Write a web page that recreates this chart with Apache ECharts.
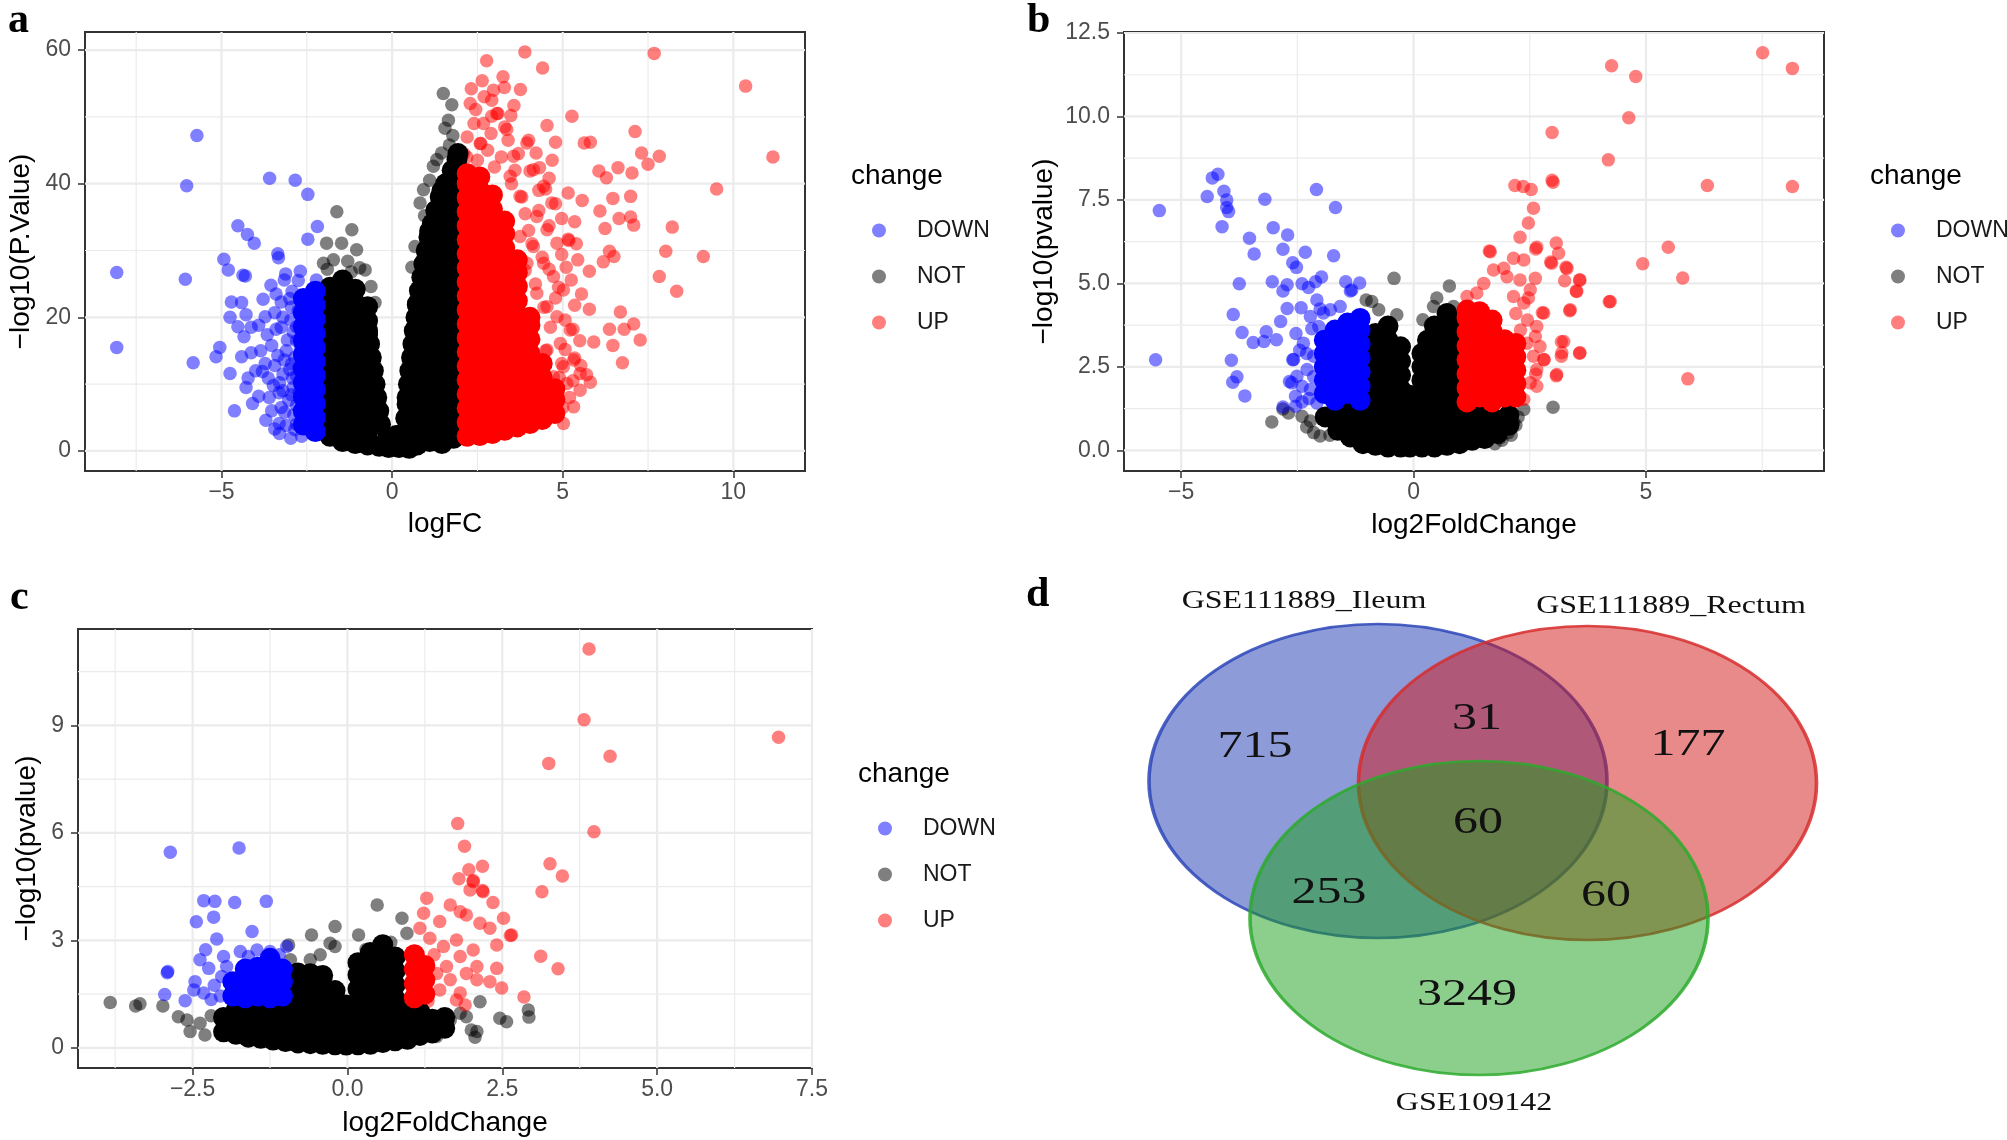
<!DOCTYPE html>
<html>
<head>
<meta charset="utf-8">
<title>Volcano plots and Venn diagram</title>
<script src="https://cdn.jsdelivr.net/npm/echarts@6/dist/echarts.min.js"></script>
<style>
  html, body { margin: 0; padding: 0; background: #fff; }
  #chart { width: 2007px; height: 1140px; }
</style>
</head>
<body>
<div id="chart"></div>
<script>
// ---------------- data ----------------
var changeNames = ['DOWN', 'NOT', 'UP'];

// panel a: logFC vs -log10(P.Value)
var aTicksX = [-5, 0, 5, 10];
var aMinorX = [-7.5, -2.5, 2.5, 7.5];
var aTicksY = [0, 20, 40, 60];
var aMinorY = [10, 30, 50];
var aDown = [[-5.72,47.2],[-6.02,39.7],[-8.07,26.7],[-8.07,15.5],[-6.06,25.7],[-5.83,13.2],[-3.59,40.8],[-2.84,40.5],[-2.47,38.4],[-4.52,33.7],[-4.24,32.4],[-4.04,31.1],[-2.19,33.6],[-2.47,31.7],[-3.35,29.5],[-3.33,28.9],[-4.93,28.7],[-4.8,27.1],[-4.37,26.3],[-4.3,26.2],[-3.12,26.5],[-2.75,25.5],[-4.71,22.3],[-4.41,22.2],[-3.78,22.7],[-4.75,20.0],[-4.52,18.6],[-3.91,18.8],[-5.05,15.5],[-5.16,14.1],[-4.34,17.1],[-4.13,14.7],[-4.75,11.6],[-4.28,9.5],[-3.91,8.2],[-4.62,6.0],[-3.48,9.8],[-3.25,6.5],[-2.97,1.9],[-3.31,4.1],[-3.72,20.1],[-3.44,20.7],[-3.25,22.3],[-3.66,17.4],[-3.53,15.8],[-3.25,18.5],[-2.97,19.6],[-3.07,16.6],[-3.85,15.0],[-3.72,13.1],[-4.0,12.0],[-3.44,12.8],[-3.16,13.6],[-2.92,10.9],[-2.69,15.2],[-2.73,12.5],[-3.63,10.9],[-3.31,8.7],[-3.03,7.6],[-2.73,8.7],[-3.53,6.0],[-2.88,5.4],[-3.1,3.8],[-2.65,2.2],[-3.44,3.3],[-4.09,7.1],[-4.22,10.9],[-4.41,14.1],[-4.13,18.5],[-4.28,20.4],[-2.93,23.9],[-3.16,25.6],[-2.69,26.9],[-2.22,25.6],[-2.95,21.5],[-2.9,17.8],[-2.85,14],[-2.8,4],[-2.9,9.5],[-3.0,12.2],[-3.4,23.5],[-3.0,22.8],[-2.75,21],[-3.2,20],[-2.8,18.6],[-3.4,18.2],[-3.1,15],[-2.8,16.5],[-3.35,14.3],[-2.95,13],[-3.2,11.5],[-2.8,11.2],[-3.3,10.2],[-2.95,8.4],[-3.2,9],[-2.8,6.8],[-3.15,5.8],[-2.85,3.2],[-3.3,2.6],[-2.7,5.6],[-3.6,8],[-3.7,4.6],[-3.8,11.9],[-3.55,24.8]];
var aNot = [[1.5,53.5],[1.75,51.8],[1.65,49.5],[1.55,48.3],[1.78,47.2],[1.31,43.6],[1.21,42.6],[1.45,44.6],[0.92,39.1],[0.82,37.1],[0.95,35.2],[0.67,30.6],[0.58,27.5],[-1.62,35.8],[-1.18,33.1],[-1.04,30.1],[-1.92,31.1],[-1.48,31.1],[-2.01,28.1],[-0.79,27.1],[-1.72,28.6],[-1.3,28.4],[-0.95,27.4],[-1.9,27.2],[-0.62,24.6],[-0.5,22.2],[-1.2,26.8],[1.1,40.5],[1.68,45.8]];
var aUp = [[3.89,59.7],[7.68,59.5],[2.77,58.4],[4.41,57.3],[10.36,54.6],[3.25,56.0],[2.64,55.4],[3.29,54.4],[2.32,54.2],[3.76,54.1],[2.92,52.5],[3.57,51.7],[2.45,51.1],[2.92,50.1],[3.48,50.2],[5.27,50.1],[7.12,47.8],[4.54,48.7],[11.16,44.0],[5.63,46.1],[5.81,46.2],[4.79,46.2],[7.31,44.6],[7.83,44.1],[7.5,42.9],[9.51,39.2],[6.06,41.9],[6.62,42.4],[7.03,41.6],[6.28,40.9],[5.16,38.6],[4.6,40.8],[4.04,41.9],[5.57,37.5],[6.47,37.8],[6.99,38.1],[6.09,35.9],[6.99,35.0],[7.08,33.8],[6.65,34.8],[8.21,33.5],[5.16,31.7],[5.18,31.5],[6.24,33.3],[8.02,29.9],[9.12,29.1],[6.37,29.9],[6.5,29.1],[6.19,28.3],[5.44,28.6],[5.78,26.9],[7.83,26.1],[8.34,23.9],[4.88,24.5],[5.35,21.8],[5.78,21.2],[6.69,20.8],[6.37,18.2],[7.08,19.0],[7.27,16.6],[6.8,18.2],[5.91,16.3],[6.47,15.8],[6.75,13.2],[5.07,15.2],[5.35,13.9],[5.53,12.8],[5.81,10.3],[5.7,11.4],[4.97,13.1],[4.79,9.8],[4.22,44.6],[4.32,42.4],[4.69,43.5],[4.5,39.2],[4.79,37],[4.97,34.8],[4.6,33.7],[5.35,34.3],[4.97,29.4],[4.6,27.2],[5.25,25.6],[4.79,22.9],[5.07,19.6],[4.64,18.5],[4.3,36],[4.1,31],[4.4,29],[4.2,25],[4.45,21.5],[3.9,27],[4.0,33],[3.8,38],[3.6,42],[3.2,44],[2.6,46],[2.2,47],[2.4,49],[2.9,47.5],[3.4,46.5],[2.1,44.5],[2.5,43.5],[3.0,42.5],[3.5,40],[3.9,35.5],[4.1,17],[4.5,15],[4.9,11],[5.2,8],[5.0,6.5],[4.6,8],[5.3,10.5],[5.5,16.5],[5.3,18.2],[5.55,23.5],[5.1,27.5],[5.4,31],[2.8,45],[3.3,48.5],[2.7,53],[3.1,50.5],[4.0,46.5],[4.3,39],[3.7,44.5],[4.14,42.1],[4.44,39.6],[4.68,37.1],[4.24,35.1],[4.54,33.1],[4.83,31.1],[4.14,30.6],[4.44,28.1],[4.73,26.1],[5.02,24.1],[4.24,23.6],[4.54,21.6],[4.83,20.1],[4.14,19.1],[5.22,18.1],[4.93,16.1],[4.54,15.1],[5.32,13.6],[5.02,12.6],[4.73,11.1],[5.12,10.1],[5.51,9.1],[4.34,9.1],[4.83,7.6],[5.32,6.6],[4.14,6.6],[4.54,5.1],[5.02,4.1],[3.95,4.1],[3.75,32.1],[3.95,28.1],[3.75,25.1],[3.56,44.1],[3.95,46.1],[3.36,48.1],[3.07,50.5],[2.68,49],[2.29,52],[2.97,54],[2.58,46],[2.19,44],[3.75,38.1],[3.46,41.1],[5.51,11.6]];
// saturated cores, one column per entry: [x, y, y, ...]
var aNotCore = [[-1.82,2.2,4.3,6.4,8.5,10.6,12.7,14.8,16.9,19,21.1,23.2,24.5],[-1.45,1.4,3.3,5.4,7.5,9.6,11.7,13.8,15.9,18,20.1,22.2,24.3,25.6],[-1.08,1.1,3.2,5.3,7.4,9.5,11.6,13.7,15.8,17.9,20,22.1,24.2],[-0.72,0.9,2.7,4.8,6.9,9,11.1,13.2,15.3,17.4,19.5,21.6],[-0.34,4],[-0.39,6],[-0.45,8],[-0.5,10],[-0.55,12],[-0.61,14],[-0.66,16],[-0.72,18],[-0.38,0.7],[-0.1,0.5],[0.2,0.5],[0.5,0.4],[-0.12,2.1],[0.12,2.3],[0.38,0.7,2.8],[0.4,4.9],[0.44,7.0],[0.44,8],[0.48,10],[0.52,12],[0.57,14],[0.61,16],[0.65,18],[0.7,20],[0.74,22],[0.8,24],[0.87,26],[0.93,28],[1.0,30],[1.08,32],[1.18,34],[1.28,36],[1.41,38],[1.57,40],[1.76,42],[1.9,43.6],[1.93,44.5],[0.74,0.9,3,5.1,7.2,9.3,11.4,13.5,15.6,17.7,19.8,21.9],[1.1,1.4,3.5,5.6,7.7,9.8,11.9,14,16.1,18.2,20.3,22.4,24.5,26.6,28.7,30.8,32.9],[1.46,1.1,3.2,5.3,7.4,9.5,11.6,13.7,15.8,17.9,20,22.1,24.2,26.3,28.4,30.5,32.6,34.7,36.8,38.9],[1.8,1.9,4,6.1,8.2,10.3,12.4,14.5,16.6,18.7,20.8,22.9,25,27.1,29.2,31.3,33.4,35.5,37.6,39.7,41.8]];
var aDownCore = [[-2.25,2.9,5,7.1,9.2,11.3,13.4,15.5,17.6,19.7,21.8,23.9],[-2.6,3.9,6,8.1,10.2,12.3,14.4,16.5,18.6,20.7,22.8]];
var aUpCore = [[2.2,2.2,4.3,6.4,8.5,10.6,12.7,14.8,16.9,19,21.1,23.2,25.3,27.4,29.5,31.6,33.7,35.8,37.9,40,41.5],[2.57,2.3,3.3,5.4,7.5,9.6,11.7,13.8,15.9,18,20.1,22.2,24.3,26.4,28.5,30.6,32.7,34.8,36.9,39,41],[2.94,2.6,4.7,6.8,8.9,11,13.1,15.2,17.3,19.4,21.5,23.6,25.7,27.8,29.9,32,34.1,36.2,38.3],[3.3,3.1,5.2,7.3,9.4,11.5,13.6,15.7,17.8,19.9,22,24.1,26.2,28.3,30.4,32.5,34.4],[3.67,3.6,5.7,7.8,9.9,12,14.1,16.2,18.3,20.4,22.5,24.6,26.7,28.6],[4.04,4.1,6.2,8.3,10.4,12.5,14.6,16.7,18.8,20],[4.4,4.7,6.8,8.9,11,13.1],[4.77,5.6,7.7,9.3]];

// panel b: log2FoldChange vs -log10(pvalue)
var bTicksX = [-5, 0, 5];
var bMinorX = [-2.5, 2.5, 7.5];
var bTicksY = [0, 2.5, 5, 7.5, 10, 12.5];
var bMinorY = [1.25, 3.75, 6.25, 8.75, 11.25];
var bDown = [[-5.47,7.18],[-5.55,2.71],[-4.33,8.16],[-4.21,8.27],[-4.44,7.6],[-4.08,7.76],[-4.02,7.5],[-4.02,7.27],[-3.98,7.15],[-4.12,6.7],[-3.2,7.52],[-2.09,7.81],[-1.68,7.27],[-3.53,6.35],[-3.43,5.88],[-3.02,6.67],[-2.71,6.45],[-2.81,6.02],[-2.33,5.93],[-2.6,5.62],[-2.52,5.48],[-1.72,5.83],[-3.75,4.99],[-3.04,5.05],[-2.4,4.99],[-1.98,5.19],[-2.26,4.88],[-2.81,4.77],[-2.72,4.96],[-2.11,5.05],[-1.46,5.05],[-1.16,5.01],[-1.36,4.77],[-1.33,4.8],[-3.88,4.07],[-3.69,3.53],[-3.45,3.23],[-3.17,3.55],[-2.86,3.86],[-2.95,3.31],[-2.72,4.25],[-2.42,4.27],[-2.01,4.23],[-2.08,4.5],[-2.22,4.01],[-2.53,3.5],[-2.19,3.64],[-2.37,3.21],[-3.92,2.7],[-3.8,2.2],[-3.89,2.04],[-3.63,1.63],[-2.6,2.71],[-2.58,2.72],[-2.51,2.22],[-2.4,1.92],[-2.54,1.62],[-2.29,2.42],[-2.15,2.82],[-2.22,1.82],[-2.08,1.42],[-2.62,2.02],[-2.67,2.06],[-2.81,1.3],[-2.54,1.32],[-3.22,3.26],[-2.04,3.71],[-1.94,4.11],[-1.79,4.21],[-1.58,4.31],[-2.3,2.9],[-2.45,3.0],[-2.25,1.55],[-2.4,1.45],[-2.15,2.2]];
var bNot = [[-0.42,5.15],[0.77,4.92],[0.5,4.56],[0.43,4.31],[0.86,4.31],[-0.75,4.21],[-0.36,4.06],[-0.9,4.46],[-1.02,4.5],[0.2,3.91],[0.36,3.76],[0.65,4.1],[-3.05,0.85],[-2.81,1.24],[-2.69,1.12],[-2.4,1.02],[-2.22,0.88],[-2.15,0.53],[-2.01,0.43],[2.37,1.22],[3.0,1.29],[2.15,0.83],[2.04,0.53],[1.86,0.38],[1.9,0.3],[2.1,0.45],[2.2,0.75],[2.25,1.0],[1.75,0.2],[-1.8,0.45],[-2.3,0.7]];
var bUp = [[7.51,11.91],[8.15,11.44],[4.26,11.52],[4.78,11.2],[4.63,9.96],[2.98,9.52],[4.19,8.7],[2.98,8.09],[3.0,8.03],[6.32,7.93],[8.15,7.9],[2.18,7.93],[2.36,7.9],[2.53,7.81],[2.58,7.25],[2.47,6.81],[2.29,6.38],[2.63,6.03],[1.63,5.97],[3.07,6.21],[2.95,5.64],[3.28,5.48],[3.25,5.08],[3.57,5.1],[3.5,4.77],[3.36,4.18],[5.48,6.08],[4.93,5.59],[5.79,5.16],[4.21,4.45],[2.77,4.12],[3.18,3.25],[3.18,2.82],[3.57,2.91],[3.07,2.23],[5.9,2.14],[2.63,2.28],[2.81,2.71],[1.65,5.95],[2.65,6.08],[2.97,5.6],[3.12,5.9],[3.3,5.45],[3.58,5.1],[3.51,4.76],[3.37,4.21],[4.23,4.46],[3.23,3.26],[3.19,2.92],[3.58,2.92],[3.08,2.27],[2.8,2.72],[2.8,4.11],[2.47,4.56],[2.62,5.15],[2.15,5.75],[2.37,5.7],[1.94,5.45],[1.72,5.4],[1.36,4.71],[1.15,4.61],[1.51,5.0],[2.01,5.2],[2.29,5.1],[2.51,4.81],[2.37,4.41],[2.15,4.61],[2.65,3.71],[2.62,3.41],[2.44,3.21],[2.72,3.11],[2.65,2.42],[2.51,2.02],[2.65,1.92],[2.37,1.52],[2.22,1.72],[2.58,2.82],[2.45,3.9],[2.3,3.6],[2.2,4.1]];
var bNotCore = [[-1.9,1.0],[-1.63,0.6,1.0],[-1.36,0.4,0.8,1.15],[-1.09,0.2,0.6,1.0],[-0.82,0.15,0.57,0.99,1.41,1.83,2.25,2.67,3.09,3.5],[-0.55,0.1,0.36,0.78,1.2,1.62,2.04,2.46,2.88,3.3,3.72],[-0.28,0.1,0.57,0.99,1.41,1.83,2.25,2.67,3.1],[-0.08,0.1,0.5,0.9,1.3,1.65],[0.18,0.1,0.5,0.9,1.3,1.7,2.1,2.5,2.9],[0.3,3.3],[0.45,0.1,0.36,0.78,1.2,1.62,2.04,2.46,2.88,3.3,3.72],[0.72,0.15,0.57,0.99,1.41,1.83,2.25,2.67,3.09,3.51,3.93,4.1],[0.92,1.4,1.8,2.2,2.6,3.0,3.4,3.8],[0.99,0.2,0.6,1.0],[1.26,0.3,0.7,1.05],[1.53,0.35,0.75,1.1],[1.8,0.5,0.9],[2.05,0.75,1.05]];
var bDownCore = [[-1.15,1.5,1.92,2.34,2.76,3.18,3.6,3.95],[-1.42,1.7,2.13,2.55,2.97,3.39,3.81],[-1.69,1.5,1.92,2.34,2.76,3.18,3.6],[-1.92,1.7,2.1,2.5,2.9,3.3]];
var bUpCore = [[1.15,1.45,1.87,2.29,2.71,3.13,3.55,3.97,4.2],[1.42,1.6,2.05,2.47,2.89,3.31,3.73,4.15],[1.69,1.45,1.87,2.29,2.71,3.13,3.55,3.9],[1.96,1.6,2.05,2.47,2.89,3.31],[2.2,1.6,2.0,2.4,2.8,3.2]];

// panel c: log2FoldChange vs -log10(pvalue)
var cTicksX = [-2.5, 0, 2.5, 5, 7.5];
var cMinorX = [-3.75, -1.25, 1.25, 3.75, 6.25];
var cTicksY = [0, 3, 6, 9];
var cMinorY = [1.5, 4.5, 7.5, 10.5];
var cDown = [[-2.86,5.46],[-1.75,5.58],[-2.32,4.11],[-2.14,4.09],[-1.82,4.06],[-1.31,4.09],[-2.44,3.52],[-2.16,3.65],[-1.54,3.25],[-2.11,3.04],[-2.91,2.1],[-2.95,1.49],[-2.62,1.32],[-2.29,2.74],[-2.9,2.13],[-2.46,1.85],[-2.38,2.46],[-2.24,2.22],[-2.0,2.55],[-2.48,1.62],[-2.32,1.53],[-2.03,1.99],[-1.95,2.27],[-0.98,2.83],[-1.73,2.69],[-1.46,2.73],[-1.25,2.69],[-1.6,2.55],[-2.15,1.75],[-2.2,1.35],[-2.05,1.45],[-1.1,2.6]];
var cNot = [[-3.83,1.27],[-3.42,1.17],[-3.35,1.23],[-2.98,1.17],[-2.73,0.87],[-2.59,0.78],[-2.54,0.46],[-2.3,0.36],[-2.38,0.69],[-2.2,0.9],[0.48,3.99],[0.88,3.62],[0.96,3.2],[-0.2,3.39],[-0.58,3.15],[0.18,3.15],[-0.28,2.92],[-0.2,2.83],[-0.6,2.46],[-0.44,2.6],[-0.95,2.87],[-0.92,2.46],[2.14,1.29],[1.92,0.87],[2.09,0.46],[2.46,0.83],[2.57,0.73],[2.92,1.06],[2.93,0.86],[1.6,0.6],[1.66,0.78],[1.82,0.97],[1.44,0.32],[2.0,0.5],[2.06,0.3],[0.7,2.95],[0.3,2.75]];
var cUp = [[3.9,11.13],[3.82,9.16],[6.96,8.67],[4.24,8.14],[3.25,7.94],[1.78,6.26],[3.98,6.03],[1.89,5.63],[3.27,5.14],[3.47,4.8],[3.14,4.36],[2.18,5.07],[1.96,4.97],[2.03,4.67],[1.8,4.72],[2.18,4.39],[2.35,4.06],[2.52,3.62],[2.63,3.14],[3.12,2.56],[3.4,2.21],[2.85,1.42],[1.28,4.18],[1.66,3.99],[1.82,3.8],[1.92,3.71],[2.19,4.36],[2.3,3.34],[2.41,2.87],[2.14,3.48],[1.49,3.53],[1.23,3.76],[1.17,3.34],[1.33,3.06],[1.55,2.83],[1.76,3.01],[2.03,2.73],[1.82,2.55],[2.09,2.27],[2.41,2.22],[2.3,1.85],[2.49,1.67],[2.65,3.15],[1.98,4.41],[2.03,4.64],[2.09,1.9],[1.92,2.08],[1.6,2.27],[1.66,1.9],[1.82,1.53],[1.49,1.62],[1.76,1.34],[1.44,2.08],[1.4,2.6],[1.3,1.3],[1.9,1.2]];
var cNotCore = [[-2.0,0.45,0.85],[-1.8,0.38,0.77,1.05],[-1.6,0.3,0.69,1.0],[-1.4,0.27,0.66,1.02],[-1.2,0.22,0.61,1.0],[-1.0,0.18,0.57,0.96],[-0.8,0.14,0.53,0.92,1.31,1.7,2.09],[-0.6,0.12,0.51,0.9,1.29,1.68,2.07],[-0.4,0.1,0.49,0.88,1.27,1.66,2.02],[-0.2,0.09,0.48,0.87,1.26,1.6],[-0.02,0.08,0.47,0.86,1.2],[0.17,0.09,0.48,0.87,1.26,1.65,2.04,2.38],[0.37,0.1,0.49,0.88,1.27,1.66,2.05,2.44,2.66],[0.57,0.15,0.54,0.93,1.32,1.71,2.1,2.49,2.88],[0.77,0.2,0.59,0.98,1.37,1.76,2.15,2.54],[0.97,0.24,0.63,0.98],[1.17,0.35,0.74,1.0],[1.37,0.42,0.8],[1.57,0.55,0.85]];
var cDownCore = [[-1.85,1.45,1.85],[-1.65,1.4,1.8,2.2],[-1.45,1.45,1.85,2.25],[-1.25,1.4,1.8,2.2,2.5],[-1.05,1.45,1.85,2.2]];
var cUpCore = [[1.08,1.4,1.8,2.2,2.6],[1.25,1.5,1.9,2.3]];

// panel d: Venn counts
var vennSets = ['GSE111889_Ileum', 'GSE111889_Rectum', 'GSE109142'];
var vennRegions = ['Ileum only', 'Ileum & Rectum', 'Rectum only', 'all three', 'Ileum & GSE109142', 'Rectum & GSE109142', 'GSE109142 only'];
var vennCounts = [715, 31, 177, 60, 253, 60, 3249];

// ---------------- layout / style ----------------
var softColors = ['rgba(0,0,255,0.5)', 'rgba(0,0,0,0.5)', 'rgba(255,0,0,0.5)'];
var coreColors = ['#0000FF', '#000000', '#FF0000'];
var sans = 'Liberation Sans';
var serif = 'Liberation Serif';
// Venn layout in panel pixels (panel origin at 1000,570)
var vennCircles = [[378, 211], [587.5, 213], [479, 348]];
var vennFill = ['rgba(27,55,177,0.5)', 'rgba(209,21,21,0.5)', 'rgba(25,159,25,0.5)'];
var vennStroke = ['rgba(45,70,185,0.85)', 'rgba(215,45,45,0.85)', 'rgba(45,170,45,0.85)'];
var vennSetPos = [[304, 31], [671, 36], [474, 533]];
var vennCountPos = [[255, 177], [477, 149], [688, 175], [478, 253], [329, 323], [606, 326], [467, 425]];

function flatCols(c) {
    var out = [];
    c.forEach(function (col) {
        for (var i = 1; i < col.length; i++) out.push([col[0], col[i]]);
    });
    return out;
}

function gridLineData(tx, mx, ty, my) {
    var d = [];
    tx.forEach(function (v) { d.push([0, v, 1]); });
    mx.forEach(function (v) { d.push([0, v, 0]); });
    ty.forEach(function (v) { d.push([1, v, 1]); });
    my.forEach(function (v) { d.push([1, v, 0]); });
    return d;
}

function renderGridLine(params, api) {
    var cs = params.coordSys;
    var v = api.value(1);
    var w = api.value(2) ? 2.2 : 1.2;
    var shape;
    if (api.value(0) === 0) {
        var px = api.coord([v, 0])[0];
        shape = {x1: px, y1: cs.y, x2: px, y2: cs.y + cs.height};
    } else {
        var py = api.coord([0, v])[1];
        shape = {x1: cs.x, y1: py, x2: cs.x + cs.width, y2: py};
    }
    return {type: 'line', shape: shape, style: {stroke: '#EBEBEB', lineWidth: w}};
}

function fmt(dec) {
    return function (v) {
        var s = dec ? Number(v).toFixed(1) : String(v);
        return s.replace('-', '\u2212');
    };
}

function axis(gi, min, max, ticks, dec, name, gap, isY) {
    return {
        type: 'value', gridIndex: gi, min: min, max: max,
        name: name, nameLocation: 'middle', nameGap: gap,
        nameTextStyle: {fontFamily: sans, fontSize: 28, color: '#000'},
        axisLine: {show: false, onZero: false},
        axisTick: {show: true, customValues: ticks, length: 7, lineStyle: {color: '#333', width: 1.5}},
        axisLabel: {customValues: ticks, formatter: fmt(dec), fontFamily: sans, fontSize: 23, color: '#4D4D4D', margin: isY ? 14 : 10},
        splitLine: {show: false}
    };
}

function panelSeries(gi, down, not, up, downCore, notCore, upCore, lines) {
    var list = [{type: 'custom', xAxisIndex: gi, yAxisIndex: gi, silent: true, z: 1, data: lines, renderItem: renderGridLine}];
    var soft = [not, down, up];
    var core = [notCore, downCore, upCore];
    var order = [1, 0, 2];
    order.forEach(function (k, i) {
        list.push({name: changeNames[k], type: 'scatter', xAxisIndex: gi, yAxisIndex: gi, silent: true, z: 2,
            symbolSize: 13.5, itemStyle: {color: softColors[k], opacity: 1, borderWidth: 0}, data: soft[i]});
    });
    // dense cores: overlapping opaque marks so the packed area reads as solid
    order.forEach(function (k, i) {
        list.push({name: changeNames[k], type: 'scatter', xAxisIndex: gi, yAxisIndex: gi, silent: true, z: 2,
            symbolSize: 21, itemStyle: {color: coreColors[k], opacity: 1, borderWidth: 0}, data: flatCols(core[i])});
    });
    return list;
}

function legendAt(left, top) {
    return {
        orient: 'vertical', left: left, top: top, itemWidth: 14, itemHeight: 14, itemGap: 23,
        selectedMode: false, icon: 'circle',
        textStyle: {fontFamily: sans, fontSize: 23, color: '#1a1a1a', padding: [0, 0, 0, 26]},
        data: changeNames.map(function (n, i) { return {name: n, itemStyle: {color: softColors[i], opacity: 1, borderWidth: 0}}; })
    };
}

function text(str, x, y, font, align) {
    return {type: 'text', x: x, y: y, silent: true,
        style: {text: str, font: font, fill: '#000', align: align || 'left', verticalAlign: 'middle'}};
}

var circlePath = 'path://M0,-100A100,100,0,1,1,0,100A100,100,0,1,1,0,-100Z';

var series = []
    .concat(panelSeries(0, aDown, aNot, aUp, aDownCore, aNotCore, aUpCore, gridLineData(aTicksX, aMinorX, aTicksY, aMinorY)))
    .concat(panelSeries(1, bDown, bNot, bUp, bDownCore, bNotCore, bUpCore, gridLineData(bTicksX, bMinorX, bTicksY, bMinorY)))
    .concat(panelSeries(2, cDown, cNot, cUp, cDownCore, cNotCore, cUpCore, gridLineData(cTicksX, cMinorX, cTicksY, cMinorY)));

series.push({
    type: 'scatter', xAxisIndex: 3, yAxisIndex: 3, silent: true, z: 2,
    symbol: circlePath, symbolSize: [458, 314],
    data: vennCircles.map(function (c, i) {
        return {name: vennSets[i], value: c, itemStyle: {color: vennFill[i], opacity: 1, borderColor: vennStroke[i], borderWidth: 3}};
    })
});
series.push({
    type: 'custom', xAxisIndex: 3, yAxisIndex: 3, silent: true, z: 5,
    data: vennCountPos.map(function (p, i) { return [p[0], p[1], vennCounts[i]]; }),
    renderItem: function (params, api) {
        var p = api.coord([api.value(0), api.value(1)]);
        return {type: 'text', x: p[0], y: p[1], scaleX: 1.35,
            style: {text: String(api.value(2)), font: '37px "' + serif + '"', fill: '#111', align: 'center', verticalAlign: 'middle'}};
    }
});
series.push({
    type: 'custom', xAxisIndex: 3, yAxisIndex: 3, silent: true, z: 5,
    data: vennSetPos.map(function (p) { return [p[0], p[1]]; }),
    renderItem: function (params, api) {
        var p = api.coord([api.value(0), api.value(1)]);
        return {type: 'text', x: p[0], y: p[1], scaleX: 1.28,
            style: {text: vennSets[params.dataIndex], font: '25px "' + serif + '"', fill: '#111', align: 'center', verticalAlign: 'middle'}};
    }
});

var option = {
    animation: false,
    backgroundColor: '#fff',
    textStyle: {fontFamily: sans},
    grid: [
        {left: 85, top: 32, width: 720, height: 439, show: true, backgroundColor: '#fff', borderColor: '#333', borderWidth: 2},
        {left: 1124, top: 32, width: 700, height: 439, show: true, backgroundColor: '#fff', borderColor: '#333', borderWidth: 2},
        {left: 78, top: 629, width: 734, height: 439, show: true, backgroundColor: '#fff', borderColor: '#333', borderWidth: 2},
        {left: 1000, top: 570, width: 1007, height: 570}
    ],
    xAxis: [
        axis(0, -9.0, 12.1, aTicksX, false, 'logFC', 39, false),
        axis(1, -6.23, 8.83, bTicksX, false, 'log2FoldChange', 40, false),
        axis(2, -4.35, 7.5, cTicksX, true, 'log2FoldChange', 41, false),
        {type: 'value', gridIndex: 3, min: 0, max: 1007, show: false}
    ],
    yAxis: [
        axis(0, -3.0, 62.7, aTicksY, false, '\u2212log10(P.Value)', 50, true),
        axis(1, -0.62, 12.53, bTicksY, true, '\u2212log10(pvalue)', 66, true),
        axis(2, -0.56, 11.69, cTicksY, false, '\u2212log10(pvalue)', 37, true),
        {type: 'value', gridIndex: 3, min: 0, max: 570, inverse: true, show: false}
    ],
    legend: [legendAt(867, 214), legendAt(1886, 214), legendAt(873, 812)],
    graphic: [
        text('change', 851, 176, '28px "' + sans + '"'),
        text('change', 1870, 176, '28px "' + sans + '"'),
        text('change', 858, 774, '28px "' + sans + '"'),
        text('a', 8, 21, 'bold 42px "' + serif + '"'),
        text('b', 1027, 21, 'bold 42px "' + serif + '"'),
        text('c', 10, 598, 'bold 42px "' + serif + '"'),
        text('d', 1026, 595, 'bold 42px "' + serif + '"')
    ],
    series: series
};

var myChart = echarts.init(document.getElementById('chart'));
myChart.setOption(option);
</script>
</body>
</html>
